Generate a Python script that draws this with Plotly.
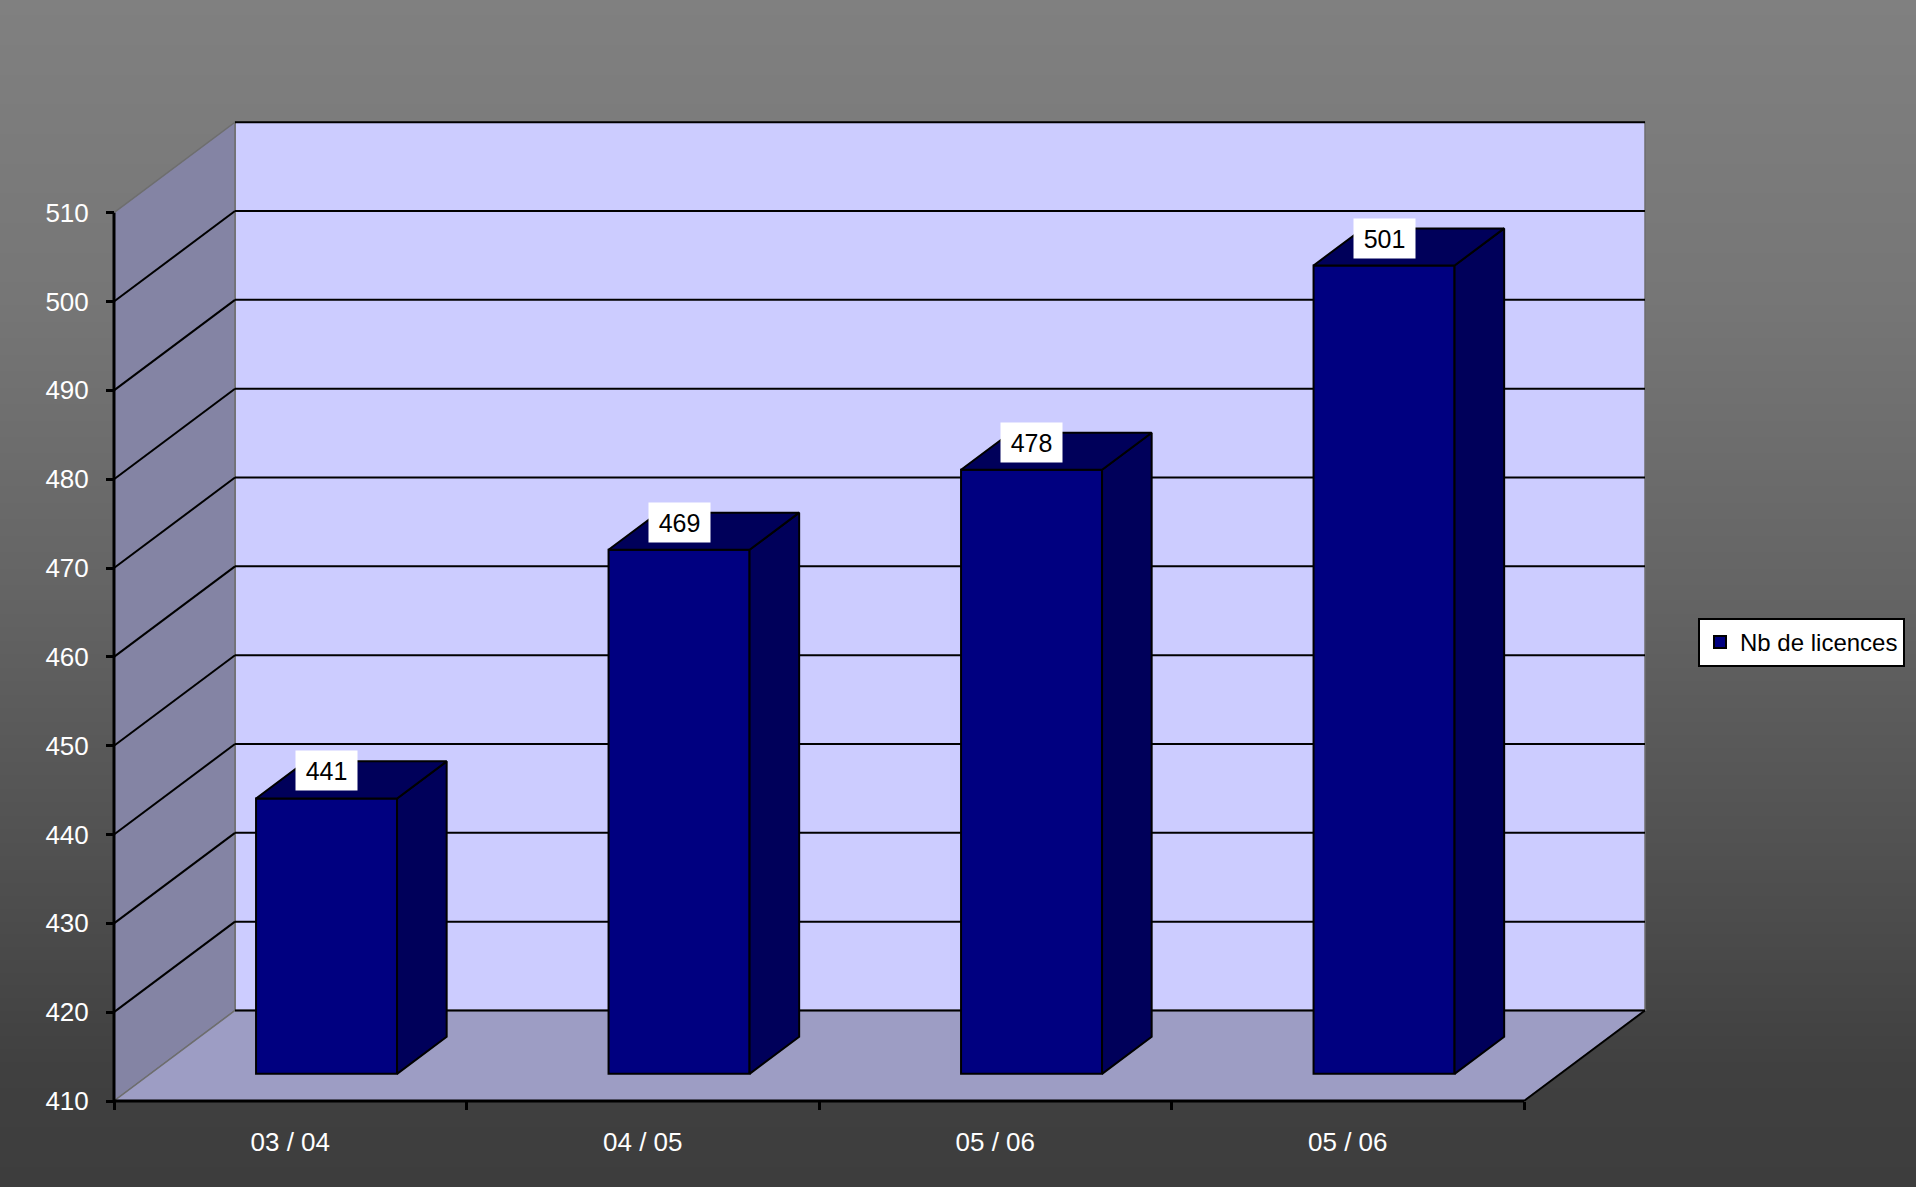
import base64
import struct
import zlib

import numpy as np
import plotly.graph_objects as go

# ---------------- data ----------------
categories = ["03 / 04", "04 / 05", "05 / 06", "05 / 06"]
licences = [441, 469, 478, 501]
y_ticks = [410, 420, 430, 440, 450, 460, 470, 480, 490, 500, 510]
series_name = "Nb de licences"

# ---------------- layout constants ----------------
W, H = 1916, 1187
FONT = "Liberation Sans, Arial, sans-serif"

PX_X0 = 114.0          # pixel of the front-left corner
PX_PER_CAT = 352.5     # pixels per category on the front plane
PX_YBASE = 1101.0      # pixel of the axis minimum on the front plane
PX_PER_UNIT = 8.883    # pixels per value unit

Y_BASE = y_ticks[0]
Y_TOP = y_ticks[-1]
X_LEFT = -0.5
X_RIGHT = len(categories) - 0.5

DX = 121.0 / PX_PER_CAT      # depth offset (x, category units)
DY = 90.5 / PX_PER_UNIT      # depth offset (y, value units)

X_RANGE = [X_LEFT - PX_X0 / PX_PER_CAT, X_LEFT + (W - PX_X0) / PX_PER_CAT]
Y_RANGE = [Y_BASE - (H - PX_YBASE) / PX_PER_UNIT, Y_BASE + PX_YBASE / PX_PER_UNIT]

BAR_HALF = 0.2
BAR_D0, BAR_D1 = 0.30, 0.71
OX, OY = BAR_D0 * DX, BAR_D0 * DY
BX, BY = (BAR_D1 - BAR_D0) * DX, (BAR_D1 - BAR_D0) * DY

BACK_WALL = "#ccccff"
SIDE_WALL = "#8484a4"
FLOOR = "#9d9dc4"
BAR_FRONT = "#000080"
BAR_SHADE = "#00005a"
EDGE_GRAY = "#6e6e6e"


# ---------------- gradient background (PNG data URI) ----------------
def gradient_png(values, width=2):
    raw = b"".join(b"\x00" + bytes([int(v)] * width) for v in values)

    def chunk(tag, data):
        c = struct.pack(">I", len(data)) + tag + data
        return c + struct.pack(">I", zlib.crc32(tag + data) & 0xFFFFFFFF)

    png = b"\x89PNG\r\n\x1a\n"
    png += chunk(b"IHDR", struct.pack(">IIBBBBB", width, len(values), 8, 0, 0, 0, 0))
    png += chunk(b"IDAT", zlib.compress(raw, 9))
    png += chunk(b"IEND", b"")
    return "data:image/png;base64," + base64.b64encode(png).decode()


rows = np.linspace(0, 1, H)
grad_vals = np.interp(rows, [0, 0.25, 0.5, 0.75, 0.9, 1.0], [128, 118, 100, 78, 64, 61])
bg_uri = gradient_png(np.round(grad_vals).astype(int))


def path(pts):
    return "M " + " L ".join(f"{x:.5f},{y:.5f}" for x, y in pts) + " Z"


shapes = []
# back wall
shapes.append(dict(type="rect", xref="x", yref="y", layer="below",
                   x0=X_LEFT + DX, x1=X_RIGHT + DX, y0=Y_BASE + DY, y1=Y_TOP + DY,
                   fillcolor=BACK_WALL, line=dict(color=EDGE_GRAY, width=1.5)))
# side wall
shapes.append(dict(type="path", xref="x", yref="y", layer="below",
                   path=path([(X_LEFT, Y_BASE), (X_LEFT + DX, Y_BASE + DY),
                              (X_LEFT + DX, Y_TOP + DY), (X_LEFT, Y_TOP)]),
                   fillcolor=SIDE_WALL, line=dict(color=EDGE_GRAY, width=1.5)))
# floor
shapes.append(dict(type="path", xref="x", yref="y", layer="below",
                   path=path([(X_LEFT, Y_BASE), (X_RIGHT, Y_BASE),
                              (X_RIGHT + DX, Y_BASE + DY), (X_LEFT + DX, Y_BASE + DY)]),
                   fillcolor=FLOOR, line=dict(color=EDGE_GRAY, width=1.5)))
# back wall gridlines
for v in y_ticks:
    shapes.append(dict(type="line", xref="x", yref="y", layer="below",
                       x0=X_LEFT + DX, x1=X_RIGHT + DX, y0=v + DY, y1=v + DY,
                       line=dict(color="black", width=2)))
# side wall gridlines
for v in y_ticks[1:-1]:
    shapes.append(dict(type="line", xref="x", yref="y", layer="below",
                       x0=X_LEFT, x1=X_LEFT + DX, y0=v, y1=v + DY,
                       line=dict(color="black", width=2)))
# floor right edge
shapes.append(dict(type="line", xref="x", yref="y", layer="below",
                   x0=X_RIGHT, x1=X_RIGHT + DX, y0=Y_BASE, y1=Y_BASE + DY,
                   line=dict(color="black", width=2)))
# front axis lines
shapes.append(dict(type="line", xref="x", yref="y", layer="below",
                   x0=X_LEFT, x1=X_RIGHT, y0=Y_BASE, y1=Y_BASE,
                   line=dict(color="black", width=3)))
shapes.append(dict(type="line", xref="x", yref="y", layer="below",
                   x0=X_LEFT, x1=X_LEFT, y0=Y_BASE, y1=Y_TOP,
                   line=dict(color="black", width=3)))

fig = go.Figure()

xs = [i + OX for i in range(len(categories))]

# front faces of the bars
fig.add_trace(go.Bar(
    x=xs, y=[v - Y_BASE for v in licences], base=Y_BASE + OY,
    width=2 * BAR_HALF, name=series_name,
    marker=dict(color=BAR_FRONT, line=dict(color="black", width=2)),
    hoverinfo="skip", showlegend=True,
))

# side and top faces
for c, v in zip(xs, licences):
    right = [(c + BAR_HALF, Y_BASE + OY), (c + BAR_HALF + BX, Y_BASE + OY + BY),
             (c + BAR_HALF + BX, v + OY + BY), (c + BAR_HALF, v + OY), (c + BAR_HALF, Y_BASE + OY)]
    top = [(c - BAR_HALF, v + OY), (c - BAR_HALF + BX, v + OY + BY),
           (c + BAR_HALF + BX, v + OY + BY), (c + BAR_HALF, v + OY), (c - BAR_HALF, v + OY)]
    for face in (right, top):
        fig.add_trace(go.Scatter(
            x=[p[0] for p in face], y=[p[1] for p in face],
            mode="lines", fill="toself", fillcolor=BAR_SHADE,
            line=dict(color="black", width=2), hoverinfo="skip", showlegend=False,
        ))

annotations = []
for c, v in zip(xs, licences):
    annotations.append(dict(
        x=c, y=v + OY, xref="x", yref="y", text=str(v), showarrow=False,
        yshift=27.5, bgcolor="white", borderpad=0, width=61, height=39,
        font=dict(family=FONT, size=25, color="black"),
    ))

fig.update_layout(
    width=W, height=H,
    margin=dict(l=0, r=0, t=0, b=0, pad=0),
    paper_bgcolor="#5f5f5f",
    plot_bgcolor="rgba(0,0,0,0)",
    font=dict(family=FONT, color="white"),
    images=[dict(source=bg_uri, xref="paper", yref="paper", x=0, y=1,
                 sizex=1, sizey=1, xanchor="left", yanchor="top",
                 sizing="stretch", layer="below")],
    shapes=shapes,
    annotations=annotations,
    showlegend=True,
    legend=dict(x=1698 / W, y=1 - 618 / H, xanchor="left", yanchor="top",
                bgcolor="white", bordercolor="black", borderwidth=2,
                font=dict(family=FONT, size=24, color="black")),
    xaxis=dict(range=X_RANGE, showgrid=False, zeroline=False, showline=False,
               tickmode="array", tickvals=list(range(len(categories))), ticktext=categories,
               ticks="", tickfont=dict(family=FONT, size=26, color="white"),
               anchor="free", position=(H - PX_YBASE) / H, automargin=False,
               ticklabelstandoff=23,
               minor=dict(tickmode="array",
                          tickvals=[X_LEFT + k for k in range(len(categories) + 1)],
                          ticks="outside", ticklen=8, tickwidth=3, tickcolor="black",
                          showgrid=False)),
    yaxis=dict(range=Y_RANGE, showgrid=False, zeroline=False, showline=False,
               tickmode="array", tickvals=y_ticks, ticks="outside", ticklen=8,
               tickwidth=3, tickcolor="black",
               tickfont=dict(family=FONT, size=26, color="white"),
               anchor="free", position=PX_X0 / W, automargin=False,
               ticklabelstandoff=12),
)

fig.write_html("out.html",
               config={"displayModeBar": False},
               post_script="document.body.style.margin='0';document.body.style.overflow='hidden';")
